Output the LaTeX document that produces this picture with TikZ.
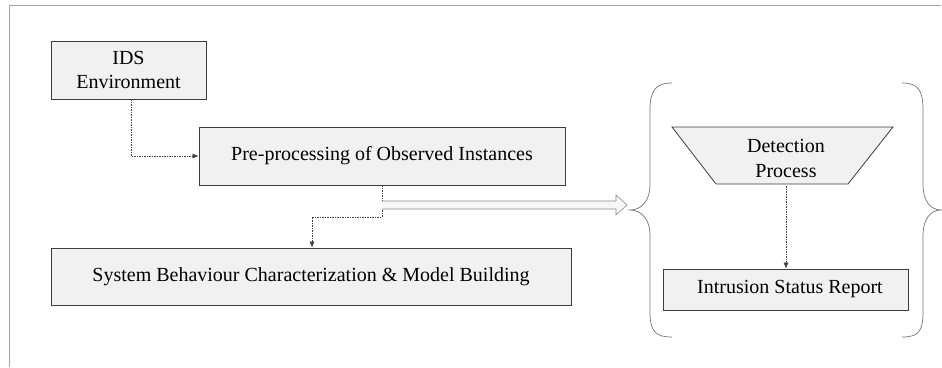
\documentclass[tikz,border=0pt]{standalone}
\usepackage{fontspec}
\setmainfont{Liberation Serif}
\usetikzlibrary{arrows.meta,calc}
\definecolor{boxfill}{RGB}{241,241,241}
\definecolor{edge}{RGB}{60,60,60}
\tikzset{
  box/.style={draw=edge, line width=0.8pt, fill=boxfill, inner sep=0pt, font=\fontsize{20}{24}\selectfont, align=center},
  conn/.style={draw=black!75, line width=0.5pt, dash pattern=on 1.5pt off 1pt, -{Latex[length=6pt,width=5pt]}},
  brace/.style={draw=black!55, line width=0.7pt},
  frame/.style={draw=black!35, line width=1pt}
}
\begin{document}
\begin{tikzpicture}[x=1pt,y=-1pt]
\useasboundingbox (0,0) rectangle (942,367);
\draw[frame] (9,367) -- (9,5.5) -- (941,5.5);
% boxes
\node[box, minimum width=155pt, minimum height=58pt] (ids) at (128.5,70) {IDS\\Environment};
\node[box, minimum width=366pt, minimum height=58pt] (pre) at (382,156) {Pre-processing of Observed Instances};
\node[box, minimum width=520pt, minimum height=57pt] (sys) at (311,276.5) {System Behaviour Characterization \& Model Building};
\node[box, minimum width=245pt, minimum height=41pt] (isr) at (785.5,289.5) {\hspace*{9pt}Intrusion Status Report};
% trapezoid
\path[draw=edge, line width=0.8pt, fill=boxfill] (672,127) -- (893,127) -- (848,184) -- (716,184) -- cycle;
\node[font=\fontsize{20}{25}\selectfont, align=center, inner sep=0pt] (det) at (786,158) {Detection\\Process};
\coordinate (detb) at (786,186);
% connectors
\draw[conn] (ids.south -| 131,0) |- (pre.west);
\coordinate (split) at (382,217);
\draw[conn] (pre.south -| split) -- (split) -| (sys.north -| 312,0);
\draw[conn] (detb) -- (isr.north -| detb);
% hollow arrow
\coordinate (tip) at (627,205);
\draw[draw=black!45, fill=white!97!black, line width=0.6pt]
  (382,201) -- ($(tip)+(-11,-4)$) -- ($(tip)+(-11,-10)$) -- (tip) -- ($(tip)+(-11,10)$) -- ($(tip)+(-11,4)$) -- (382,209);
% braces
\draw[brace] (672,83) .. controls (656,83) and (650,90) .. (650,110) -- (650,185)
  .. controls (650,200) and (642,210) .. (630,210)
  .. controls (642,210) and (650,220) .. (650,235) -- (650,312)
  .. controls (650,332) and (656,337) .. (672,337);
\draw[brace] (902,83) .. controls (918,83) and (923,90) .. (923,110) -- (923,185)
  .. controls (923,200) and (930,210) .. (941,210)
  .. controls (930,210) and (923,220) .. (923,235) -- (923,312)
  .. controls (923,332) and (918,337) .. (902,337);
\end{tikzpicture}
\end{document}
